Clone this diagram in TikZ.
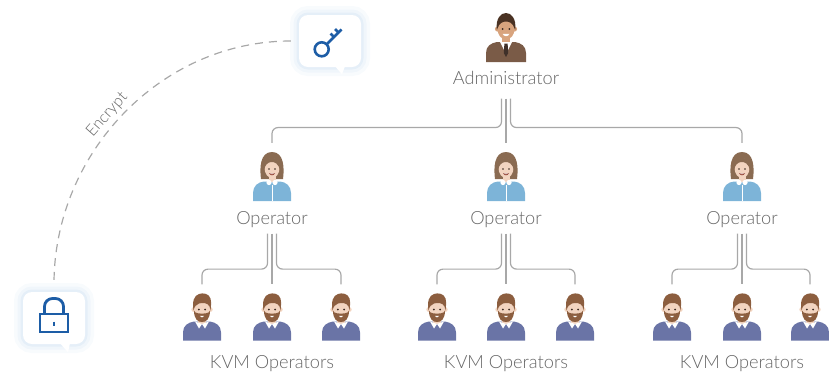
\documentclass[tikz,border=0pt]{standalone}
\usepackage{fontspec}
\setmainfont{Lato Light}
\usepackage{tikz}
\usetikzlibrary{positioning}
\definecolor{linegray}{HTML}{A8A8A8}
\definecolor{textgray}{HTML}{666666}
\definecolor{iconblue}{HTML}{1D5DA6}
\definecolor{glow}{HTML}{C9DDF1}
\definecolor{suit}{HTML}{7A5B47}
\definecolor{tanskin}{HTML}{D8A47E}
\definecolor{darkhair}{HTML}{4A3223}
\definecolor{tiebrown}{HTML}{3F3029}
\definecolor{lightskin}{HTML}{F2D4C0}
\definecolor{longhair}{HTML}{8A6B52}
\definecolor{blouse}{HTML}{7DB4D8}
\definecolor{beard}{HTML}{8C5E3F}
\definecolor{sweater}{HTML}{6A74A6}
\definecolor{eyedark}{HTML}{3A2A22}
\definecolor{lips}{HTML}{9A4C3E}

\tikzset{
  % people, drawn round (0,0), y pointing down
  admin/.pic={
    \fill[suit] (-20,25) -- (-20,16) .. controls (-20,9) and (-15,6) .. (-9,5) -- (9,5) .. controls (15,6) and (20,9) .. (20,16) -- (20,25) -- cycle;
    \fill[tanskin] (-4,-3) rectangle (4,8);
    \fill[white] (-6,5) -- (6,5) -- (0,17) -- cycle;
    \fill[tiebrown] (-1.6,6.5) -- (1.6,6.5) -- (2.2,16) -- (0,20) -- (-2.2,16) -- cycle;
    \fill[tanskin] (-8.5,-8) circle (2.6) (8.5,-8) circle (2.6);
    \fill[tanskin] (0,-8) ellipse (8.5 and 10.5);
    \fill[darkhair] (-9.2,-7) .. controls (-10.5,-19) and (-5,-24) .. (0,-24) .. controls (5,-24) and (10.5,-19) .. (9.2,-7) -- (8.3,-9) .. controls (7,-14) and (3,-15.5) .. (0,-15.5) .. controls (-3,-15.5) and (-7,-14) .. (-8.3,-9) -- cycle;
    \fill[eyedark] (-3.3,-8) circle (1) (3.3,-8) circle (1);
    \fill[white] (-3.5,-3.2) .. controls (-2,0) and (2,0) .. (3.5,-3.2) -- cycle;
  },
  operator/.pic={
    \fill[longhair] (-11,3) .. controls (-12.5,-8) and (-12,-24) .. (0,-24) .. controls (12,-24) and (12.5,-8) .. (11,3) -- cycle;
    \fill[blouse] (-19,25) -- (-19,17) .. controls (-19,10) and (-14,6) .. (-8,5.5) -- (8,5.5) .. controls (14,6) and (19,10) .. (19,17) -- (19,25) -- cycle;
    \fill[lightskin] (-3.5,-3) rectangle (3.5,6);
    \fill[white] (-3,6.5) circle (2.6) (3,6.5) circle (2.6);
    \draw[white,line width=0.6pt] (0,9) -- (0,25);
    \fill[lightskin] (0,-8) ellipse (7.5 and 10);
    \fill[longhair] (-8,-6) .. controls (-9,-17) and (-3,-19) .. (2,-18) .. controls (6,-17) and (8.5,-13) .. (8,-6) .. controls (6.5,-12) and (3,-14.5) .. (-1,-14) .. controls (-4.5,-13.5) and (-7,-11) .. (-8,-6) -- cycle;
    \fill[eyedark] (-3,-7) circle (0.9) (3,-7) circle (0.9);
    \fill[lips] (-3,-2.8) .. controls (-1.8,0) and (1.8,0) .. (3,-2.8) -- cycle;
    \fill[white] (-2.6,-2.6) .. controls (-1.5,-1.6) and (1.5,-1.6) .. (2.6,-2.6) -- cycle;
  },
  kvmuser/.pic={
    \fill[sweater] (-19,24) -- (-19,16) .. controls (-19,9) and (-14,6) .. (-8,5) -- (8,5) .. controls (14,6) and (19,9) .. (19,16) -- (19,24) -- cycle;
    \fill[lightskin] (-4,-3) rectangle (4,7);
    \fill[white] (-7,5) -- (0,7.5) -- (-3,12) -- cycle;
    \fill[white] (7,5) -- (0,7.5) -- (3,12) -- cycle;
    \fill[lightskin] (-8.3,-7) circle (2.4) (8.3,-7) circle (2.4);
    \fill[lightskin] (0,-7) ellipse (8 and 10);
    \fill[beard] (-8,-6) .. controls (-8,3) and (-4,5.5) .. (0,5.5) .. controls (4,5.5) and (8,3) .. (8,-6) -- (6.5,-4) .. controls (4,-2.5) and (-4,-2.5) .. (-6.5,-4) -- cycle;
    \fill[white] (-2.2,-0.6) -- (2.2,-0.6) .. controls (1.5,1.5) and (-1.5,1.5) .. (-2.2,-0.6) -- cycle;
    \fill[beard] (-8.5,-6) .. controls (-10,-15) and (-8,-21) .. (-3,-22.5) .. controls (1,-24) and (7,-23) .. (8.5,-18) .. controls (9.5,-14) and (9,-10) .. (8.5,-6) -- (7.5,-10) .. controls (6,-14) and (0,-14) .. (-3,-13) .. controls (-6,-12) and (-7.5,-10) .. (-8.5,-6) -- cycle;
    \fill[eyedark] (-3.2,-7) circle (1) (3.2,-7) circle (1);
  }
}

\begin{document}
\begin{tikzpicture}[
  x=1pt,y=-1pt,
  who/.style={font=\fontsize{18.2}{21}\selectfont,text=textgray,inner sep=0pt},
  figure/.style={minimum width=40pt,minimum height=50pt,inner sep=0pt},
  kvmfigure/.style={figure,minimum height=48pt},
  link/.style={draw=linegray,line width=1.2pt,rounded corners=6pt,shorten >=8pt},
  bubble/.style={fill=white,rounded corners=9pt,minimum width=62pt,minimum height=52pt,
    preaction={draw=glow,line width=18pt,opacity=0.12},
    preaction={draw=glow,line width=11pt,opacity=0.18},
    preaction={draw=glow,line width=5pt,opacity=0.28}},
  keyline/.style={draw=iconblue,line width=2.6pt}
]
\clip (0,0) rectangle (829,373);

% encryption key and lock
\node[bubble] (key) at (330,41) {};
\fill[white] ([xshift=5pt,yshift=1pt]key.south) -- ([xshift=12pt,yshift=-7pt]key.south) -- ([xshift=15pt,yshift=1pt]key.south) -- cycle;
\node[bubble] (lock) at (54,318) {};
\fill[white] ([xshift=6pt,yshift=1pt]lock.south) -- ([xshift=14pt,yshift=-8pt]lock.south) -- ([xshift=16pt,yshift=1pt]lock.south) -- cycle;
\begin{scope}[shift={(key.center)}]
  \draw[keyline] (-8.3,8.3) circle (7);
  \draw[keyline] (-3.4,3.4) -- (11.5,-11.5);
  \draw[keyline] (4,-4) -- (0.5,-7.5);
  \draw[keyline] (8.5,-8.5) -- (5,-12);
\end{scope}
\begin{scope}[shift={(lock.center)}]
  \draw[keyline,line width=2.8pt,rounded corners=8pt] (-9.5,-4) -- (-9.5,-19.5) -- (9.5,-19.5) -- (9.5,-4);
  \draw[keyline,line width=2.8pt,fill=white] (-14,-4) rectangle (14,14);
  \draw[iconblue,line width=2.4pt] (0,3.5) -- (0,7.5);
\end{scope}
\draw[draw=linegray,line width=1.2pt,dash pattern=on 8pt off 6pt,shorten <=8pt,shorten >=8pt]
  (key.west) .. controls (160,41) and (54,154) .. (lock.north)
  node[pos=0.53,sloped,above=5pt,font=\fontsize{16}{18}\selectfont,text=textgray,inner sep=0pt] {Encrypt};

% administrator
\node[figure,minimum width=42pt] (adm) at (506,37) {};
\pic at (adm) {admin};
\node[who,below=22pt of adm,anchor=base] (admlabel) {Administrator};

% operators
\node[figure] (op1) at (272,176) {};
\node[figure] (op2) at (506,176) {};
\node[figure] (op3) at (742,176) {};
\pic at (op1) {operator};
\pic at (op2) {operator};
\pic at (op3) {operator};
\node[who,below=23pt of op1,anchor=base] (oplabel1) {Operator};
\node[who,below=23pt of op2,anchor=base] (oplabel2) {Operator};
\node[who,below=23pt of op3,anchor=base] (oplabel3) {Operator};

% KVM operators
\node[kvmfigure] (k11) at (202,316.5) {};
\node[kvmfigure] (k12) at (272,316.5) {};
\node[kvmfigure] (k13) at (341,316.5) {};
\node[kvmfigure] (k21) at (437,316.5) {};
\node[kvmfigure] (k22) at (506,316.5) {};
\node[kvmfigure] (k23) at (575,316.5) {};
\node[kvmfigure] (k31) at (672,316.5) {};
\node[kvmfigure] (k32) at (742,316.5) {};
\node[kvmfigure] (k33) at (810,316.5) {};
\pic at (k11) {kvmuser};
\pic at (k12) {kvmuser};
\pic at (k13) {kvmuser};
\pic at (k21) {kvmuser};
\pic at (k22) {kvmuser};
\pic at (k23) {kvmuser};
\pic at (k31) {kvmuser};
\pic at (k32) {kvmuser};
\pic at (k33) {kvmuser};
\node[who,below=28pt of k12,anchor=base] (kvmlabel1) {KVM Operators};
\node[who,below=28pt of k22,anchor=base] (kvmlabel2) {KVM Operators};
\node[who,below=28pt of k32,anchor=base] (kvmlabel3) {KVM Operators};

% administrator to operators
\draw[link,shorten <=14pt] ([xshift=-4.5pt]admlabel.south) -- ++(0,43) -| (op1.north);
\draw[link,shorten <=14pt] (admlabel.south) -- (op2.north);
\draw[link,shorten <=14pt] ([xshift=4.5pt]admlabel.south) -- ++(0,43) -| (op3.north);

% operators to KVM operators
\draw[link,shorten <=6pt] ([xshift=-4.5pt]oplabel1.south) -- ++(0,41.5) -| (k11.north);
\draw[link,shorten <=6pt] (oplabel1.south) -- (k12.north);
\draw[link,shorten <=6pt] ([xshift=4.5pt]oplabel1.south) -- ++(0,41.5) -| (k13.north);
\draw[link,shorten <=6pt] ([xshift=-4.5pt]oplabel2.south) -- ++(0,41.5) -| (k21.north);
\draw[link,shorten <=6pt] (oplabel2.south) -- (k22.north);
\draw[link,shorten <=6pt] ([xshift=4.5pt]oplabel2.south) -- ++(0,41.5) -| (k23.north);
\draw[link,shorten <=6pt] ([xshift=-4.5pt]oplabel3.south) -- ++(0,41.5) -| (k31.north);
\draw[link,shorten <=6pt] (oplabel3.south) -- (k32.north);
\draw[link,shorten <=6pt] ([xshift=4.5pt]oplabel3.south) -- ++(0,41.5) -| (k33.north);
\end{tikzpicture}
\end{document}
